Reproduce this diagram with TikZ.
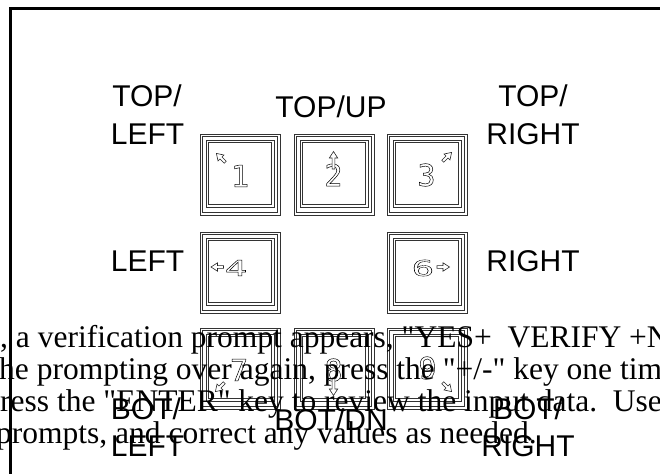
\documentclass[tikz,border=0pt]{standalone}
\usepackage{fontspec}
\setmainfont{Liberation Serif}[Ligatures=TeXOff]
\newfontfamily\labelfont{Liberation Sans}
\newfontfamily\keyfont{DejaVu Sans Mono}
% stroked (outline) glyphs through the PDF text render mode
\newcommand\hollowdigit[1]{\special{pdf:literal direct 1 Tr 0.5 w}#1\special{pdf:literal direct 0 Tr}}
\begin{document}
\begin{tikzpicture}[x=1pt,y=-1pt,
  keyline/.style={line width=0.7pt,draw=black!80},
  arrowline/.style={line width=0.6pt,draw=black!85,fill=white,line join=miter},
  lbl/.style={font=\labelfont\fontsize{30}{36}\selectfont,inner sep=0pt,anchor=base},
  body/.style={font=\fontsize{31.5}{32}\selectfont,inner sep=0pt,anchor=base west},
  digit/.style={font=\keyfont\fontsize{30}{30}\selectfont,inner sep=0pt,anchor=center},
  keycap/.pic={
    \draw[keyline] (0,0) rectangle (80,81);
    \draw[keyline] (2.5,2.5) rectangle (77.5,78.5);
    \draw[keyline] (6,6) rectangle (74,73);
    \draw[keyline] (8.5,8.5) rectangle (71.5,70.5);
  },
  harrow/.pic={
    \draw[arrowline] (-6,-1.4) -- (0,-1.4) -- (0,-4.2) -- (6.5,0) -- (0,4.2) -- (0,1.4) -- (-6,1.4) -- cycle;
  },
  hlongarrow/.pic={
    \draw[arrowline] (-11,-1.4) -- (0,-1.4) -- (0,-4.2) -- (6.5,0) -- (0,4.2) -- (0,1.4) -- (-11,1.4) -- cycle;
  }]
\useasboundingbox (0,0) rectangle (660,473);

% keypad keys
\pic at (200,134) {keycap};
\pic at (294,134) {keycap};
\pic at (387,134) {keycap};
\pic at (200,232) {keycap};
\pic at (387,232) {keycap};
\pic at (200,328) {keycap};
\pic at (294,328) {keycap};
\pic at (387,328) {keycap};

% key digits
\node[digit] (d1) at (240,176) {\hollowdigit{1}};
\node[digit] (d2) at (333.5,175) {\hollowdigit{2}};
\node[digit] (d3) at (426.5,175) {\hollowdigit{3}};
\node[digit] (d4) at (236,268) {\scalebox{1.25}[0.72]{\hollowdigit{4}}};
\node[digit] (d6) at (423,268) {\scalebox{1.25}[0.72]{\hollowdigit{6}}};
\node[digit] (d7) at (239,370) {\hollowdigit{7}};
\node[digit] (d8) at (333.5,370) {\hollowdigit{8}};
\node[digit] (d9) at (427.5,368) {\hollowdigit{9}};

% direction arrows on the keys
\pic[rotate=135] at (221,158) {harrow};
\pic[rotate=90] at (333.5,158) {hlongarrow};
\pic[rotate=45] at (447,157) {harrow};
\pic[rotate=180] at (217.5,267) {harrow};
\pic at (443,267) {harrow};
\pic[rotate=225] at (220,387) {harrow};
\pic[rotate=-90] at (333.5,389) {hlongarrow};
\pic[rotate=-45] at (447,387) {harrow};

% running text of the page
\node[body] (line1) at (0,347) {, a verification prompt appears, "YES+\ \ VERIFY +N};
\node[body] (line2) at (-1,379) {he prompting over again, press the "+/-" key one tim};
\node[body] (line3) at (0,411) {ress the "ENTER" key to review the input data.\ \ Use};
\node[body] (line4) at (-4,443) {prompts, and correct any values as needed.};

% direction labels
\node[lbl] (tl1) at (147,107) {TOP/};
\node[lbl] (tl2) at (147.5,145) {LEFT};
\node[lbl] (tu) at (331,118) {TOP/UP};
\node[lbl] (tr1) at (533,107) {TOP/};
\node[lbl] (tr2) at (533,145) {RIGHT};
\node[lbl] (ml) at (147.5,271) {LEFT};
\node[lbl] (mr) at (533,271) {RIGHT};
\node[lbl] (bl1) at (146,419) {BOT/};
\node[lbl] (bl2) at (147.5,456) {LEFT};
\node[lbl] (bd) at (331,430) {BOT/DN};
\node[lbl] (br1) at (528,419) {BOT/};
\node[lbl] (br2) at (528,456) {RIGHT};

% page frame
\draw[line width=3.5pt,line join=miter] (10.7,474) -- (10.7,8.3) -- (661,8.3);
\end{tikzpicture}
\end{document}
